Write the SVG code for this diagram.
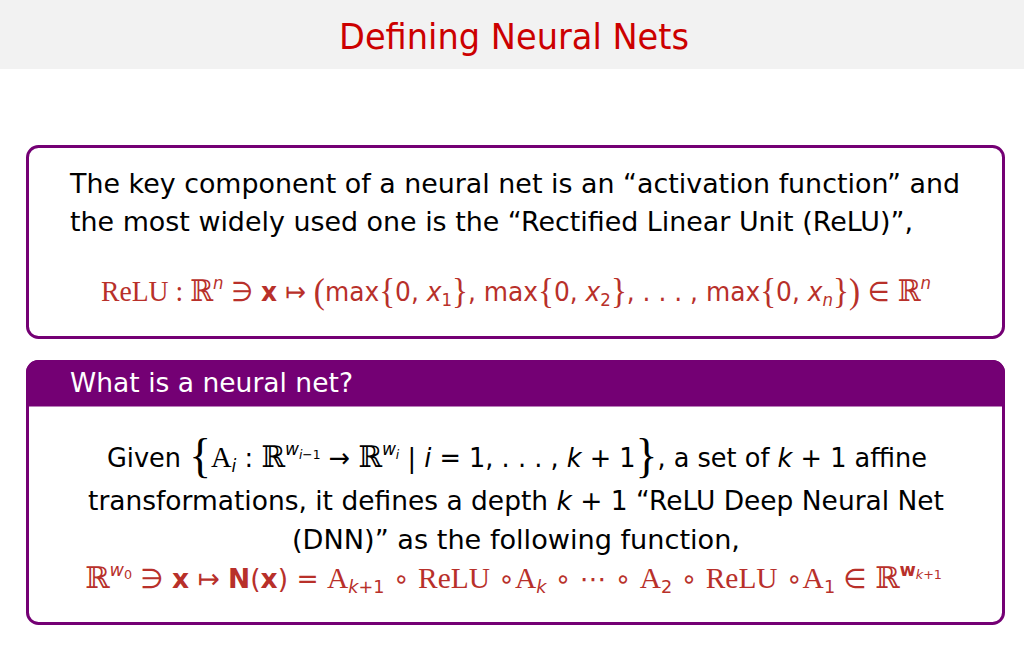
<svg xmlns="http://www.w3.org/2000/svg" width="1024" height="672" viewBox="0 0 1024 672">
<style>
.t{font-family:"DejaVu Sans","Liberation Sans",sans-serif;font-size:27px;fill:#000}
.m{font-family:"DejaVu Sans","Liberation Sans",sans-serif;font-size:27px;fill:#b8302a}
.s{font-family:"Liberation Serif","DejaVu Serif",serif;font-size:30px}
.i{font-style:italic}
.b{font-weight:bold}
.sm{font-size:18px}
.xs{font-size:13px}
.br{font-family:"Liberation Serif","DejaVu Serif",serif;font-size:36px}
.bg{font-family:"Liberation Serif","DejaVu Serif",serif;font-size:48px}
</style>
<rect x="0" y="0" width="1024" height="672" fill="#fff"/>
<g id="titlebar">
<rect x="0" y="0" width="1024" height="69" fill="#f2f2f2"/>
<text x="514" y="49" text-anchor="middle" font-family="DejaVu Sans,Liberation Sans,sans-serif" font-size="36" fill="#cc0000" textLength="350" lengthAdjust="spacingAndGlyphs">Defining Neural Nets</text>
</g>
<g id="box1">
<rect x="27.5" y="146.5" width="976" height="191" rx="11" fill="#fff" stroke="#740074" stroke-width="3"/>
<text class="t" x="70" y="193" textLength="890" lengthAdjust="spacingAndGlyphs">The key component of a neural net is an “activation function” and</text>
<text class="t" x="70" y="231" textLength="843" lengthAdjust="spacingAndGlyphs">the most widely used one is the “Rectified Linear Unit (ReLU)”,</text>
<text class="m" x="101" y="301" textLength="830" lengthAdjust="spacingAndGlyphs"><tspan class="s">ReLU : ℝ</tspan><tspan class="i sm" dy="-12">n</tspan><tspan dy="12"> ∋ </tspan><tspan class="b">x</tspan><tspan> ↦ </tspan><tspan class="br" dy="2">(</tspan><tspan dy="-2">max</tspan><tspan class="br" dy="2">{</tspan><tspan dy="-2">0, </tspan><tspan class="i">x</tspan><tspan class="sm" dy="5">1</tspan><tspan class="br" dy="-3">}</tspan><tspan dy="-2">, max</tspan><tspan class="br" dy="2">{</tspan><tspan dy="-2">0, </tspan><tspan class="i">x</tspan><tspan class="sm" dy="5">2</tspan><tspan class="br" dy="-3">}</tspan><tspan dy="-2">, . . . , max</tspan><tspan class="br" dy="2">{</tspan><tspan dy="-2">0, </tspan><tspan class="i">x</tspan><tspan class="i sm" dy="5">n</tspan><tspan class="br" dy="-3">})</tspan><tspan dy="-2"> ∈ </tspan><tspan class="s">ℝ</tspan><tspan class="i sm" dy="-12">n</tspan></text>
</g>
<g id="box2">
<rect x="27.5" y="361.5" width="976" height="262" rx="11" fill="#fff" stroke="#740074" stroke-width="3"/>
<path d="M27.5,405 V372.5 A11,11 0 0 1 38.5,361.5 H992.5 A11,11 0 0 1 1003.5,372.5 V405 Z" fill="#740074" stroke="#740074" stroke-width="3"/>
<text x="70" y="392" font-family="DejaVu Sans,Liberation Sans,sans-serif" font-size="27" fill="#fff" textLength="283" lengthAdjust="spacingAndGlyphs">What is a neural net?</text>
<text class="t" x="107" y="467" textLength="820" lengthAdjust="spacingAndGlyphs"><tspan>Given </tspan><tspan class="bg" dy="5">{</tspan><tspan class="s" dy="-5">A</tspan><tspan class="i sm" dy="5">i</tspan><tspan dy="-5"> : </tspan><tspan class="s">ℝ</tspan><tspan class="i sm" dy="-12">w</tspan><tspan class="i xs" dy="4">i</tspan><tspan class="xs">−1</tspan><tspan dy="8"> → </tspan><tspan class="s">ℝ</tspan><tspan class="i sm" dy="-12">w</tspan><tspan class="i xs" dy="4">i</tspan><tspan dy="8"> | </tspan><tspan class="i">i</tspan><tspan> = 1, . . . , </tspan><tspan class="i">k</tspan><tspan> + 1</tspan><tspan class="bg" dy="5">}</tspan><tspan dy="-5">, a set of </tspan><tspan class="i">k</tspan><tspan> + 1 affine</tspan></text>
<text class="t" x="88" y="510" textLength="856" lengthAdjust="spacingAndGlyphs">transformations, it defines a depth <tspan class="i">k</tspan> + 1 “ReLU Deep Neural Net</text>
<text class="t" x="292" y="549" textLength="448" lengthAdjust="spacingAndGlyphs">(DNN)” as the following function,</text>
<text class="m" x="85" y="588" textLength="857" lengthAdjust="spacingAndGlyphs"><tspan class="s">ℝ</tspan><tspan class="i sm" dy="-12">w</tspan><tspan class="xs" dy="3">0</tspan><tspan dy="9"> ∋ </tspan><tspan class="b">x</tspan><tspan> ↦ </tspan><tspan class="b">N</tspan><tspan>(</tspan><tspan class="b">x</tspan><tspan>) = </tspan><tspan class="s">A</tspan><tspan class="i sm" dy="5">k</tspan><tspan class="sm">+1</tspan><tspan dy="-5"> ∘ </tspan><tspan class="s">ReLU</tspan><tspan> ∘</tspan><tspan class="s">A</tspan><tspan class="i sm" dy="5">k</tspan><tspan dy="-5"> ∘ ⋯ ∘ </tspan><tspan class="s">A</tspan><tspan class="sm" dy="5">2</tspan><tspan dy="-5"> ∘ </tspan><tspan class="s">ReLU</tspan><tspan> ∘</tspan><tspan class="s">A</tspan><tspan class="sm" dy="5">1</tspan><tspan dy="-5"> ∈ </tspan><tspan class="s">ℝ</tspan><tspan class="b sm" dy="-12">w</tspan><tspan class="i xs" dy="3">k</tspan><tspan class="xs">+1</tspan></text>
</g>
</svg>
